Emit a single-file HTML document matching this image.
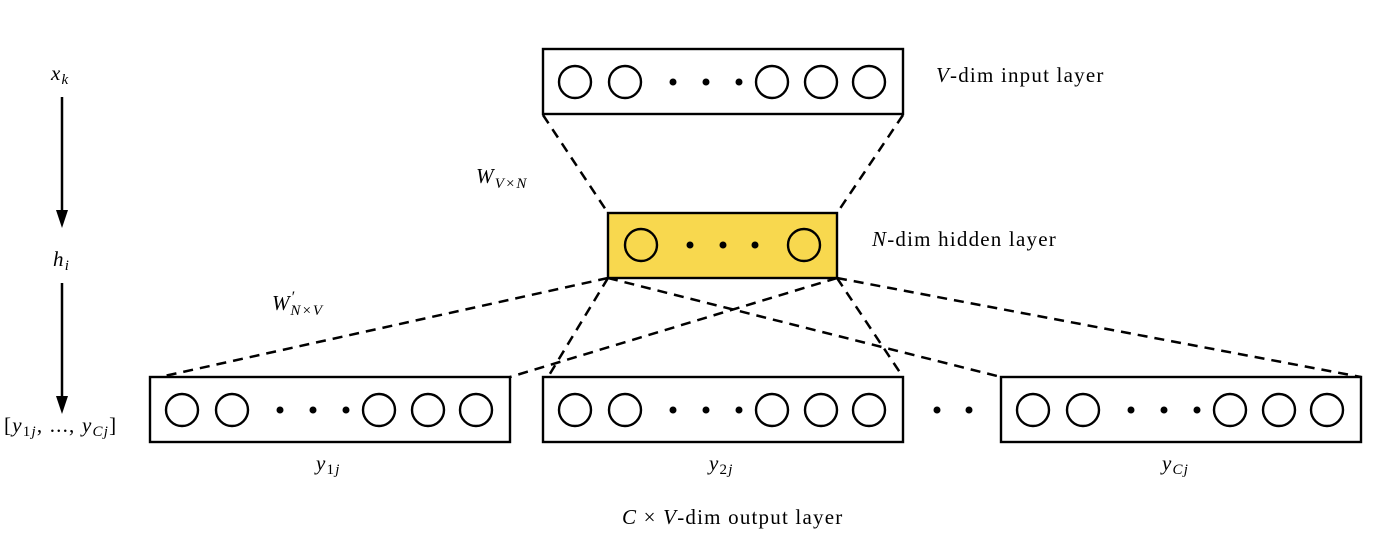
<!DOCTYPE html>
<html><head><style>
html,body{margin:0;padding:0;background:#fff;}
svg text{font-family:"Liberation Serif",serif;font-size:21px;fill:#000;letter-spacing:1.2px;}
.i{font-style:italic;}
.s{font-size:15px;font-style:italic;}
</style></head><body>
<svg width="1400" height="541" viewBox="0 0 1400 541" xmlns="http://www.w3.org/2000/svg">
<defs>
<g id="row" fill="none" stroke="#000" stroke-width="2.4">
<circle cx="32" cy="33" r="16"/><circle cx="82" cy="33" r="16"/>
<circle cx="229" cy="33" r="16"/><circle cx="278" cy="33" r="16"/><circle cx="326" cy="33" r="16"/>
<circle cx="130" cy="33" r="3.5" fill="#000" stroke="none"/><circle cx="163" cy="33" r="3.5" fill="#000" stroke="none"/><circle cx="196" cy="33" r="3.5" fill="#000" stroke="none"/>
<rect x="0" y="0" width="360" height="65"/>
</g>
</defs>
<g stroke="#000" stroke-width="2.5" stroke-dasharray="10,7" fill="none">
<line x1="543" y1="115" x2="608" y2="213"/>
<line x1="903" y1="115" x2="837" y2="213"/>
<line x1="608" y1="278" x2="160" y2="377"/>
<line x1="608" y1="278" x2="548" y2="377"/>
<line x1="608" y1="278" x2="1001" y2="377"/>
<line x1="837" y1="278" x2="510" y2="377"/>
<line x1="837" y1="278" x2="903" y2="377"/>
<line x1="837" y1="278" x2="1361" y2="377"/>
</g>
<use href="#row" x="543" y="49"/>
<rect x="608" y="213" width="229" height="65" fill="#f8d84e" stroke="#000" stroke-width="2.4"/>
<g fill="none" stroke="#000" stroke-width="2.4"><circle cx="641" cy="245" r="16"/><circle cx="804" cy="245" r="16"/></g>
<g fill="#000"><circle cx="690" cy="245" r="3.5"/><circle cx="723" cy="245" r="3.5"/><circle cx="755" cy="245" r="3.5"/>
<circle cx="937" cy="410" r="3.5"/><circle cx="969" cy="410" r="3.5"/></g>
<use href="#row" x="150" y="377"/>
<use href="#row" x="543" y="377"/>
<use href="#row" x="1001" y="377"/>
<g stroke="#000" stroke-width="2.5"><line x1="62" y1="97" x2="62" y2="212"/><line x1="62" y1="283" x2="62" y2="398"/></g>
<polygon points="56,210 68,210 62,228" fill="#000"/>
<polygon points="56,396 68,396 62,414" fill="#000"/>
<text x="51" y="80" class="i">x<tspan class="s" dy="4">k</tspan></text>
<text x="53" y="266" class="i">h<tspan class="s" dy="4">i</tspan></text>
<text x="4" y="432">[<tspan class="i">y</tspan><tspan font-size="15" dy="4">1<tspan font-style="italic">j</tspan></tspan><tspan dy="-4">, ..., </tspan><tspan class="i">y</tspan><tspan class="s" dy="4">Cj</tspan><tspan dy="-4">]</tspan></text>
<text x="476" y="183" class="i">W<tspan class="s" dy="5">V×N</tspan></text>
<text x="272" y="310" class="i">W<tspan font-size="16" dy="-8">′</tspan><tspan class="s" dy="13" dx="-5">N×V</tspan></text>
<text x="936" y="82"><tspan class="i">V</tspan>-dim input layer</text>
<text x="872" y="246"><tspan class="i">N</tspan>-dim hidden layer</text>
<text x="316" y="470" class="i">y<tspan font-size="15" dy="4" font-style="normal">1</tspan><tspan class="s">j</tspan></text>
<text x="709" y="470" class="i">y<tspan font-size="15" dy="4" font-style="normal">2</tspan><tspan class="s">j</tspan></text>
<text x="1162" y="470" class="i">y<tspan class="s" dy="4">Cj</tspan></text>
<text x="622" y="524"><tspan class="i">C</tspan> × <tspan class="i">V</tspan>-dim output layer</text>
</svg>
</body></html>
